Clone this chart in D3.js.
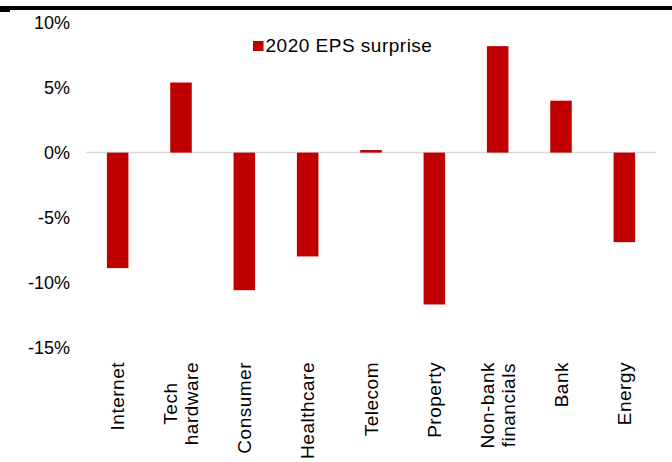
<!DOCTYPE html>
<html>
<head>
<meta charset="utf-8">
<script src="https://cdn.jsdelivr.net/npm/d3@7/dist/d3.min.js"></script>
<style>
  html, body { margin: 0; padding: 0; background: #fff; }
  svg { display: block; font-family: "Liberation Sans", Arial, sans-serif; }
</style>
</head>
<body>
<svg id="chart" width="672" height="462"></svg>
<script>
// Sector EPS surprise, 2020 (%)
const sectors = [
  ["Internet"],
  ["Tech", "hardware"],
  ["Consumer"],
  ["Healthcare"],
  ["Telecom"],
  ["Property"],
  ["Non-bank", "financials"],
  ["Bank"],
  ["Energy"]
];
const epsSurprise = [-8.9, 5.4, -10.6, -8.0, 0.2, -11.7, 8.2, 4.0, -6.9];
const yTicks = [-15, -10, -5, 0, 5, 10];
const seriesName = "2020 EPS surprise";

const svg = d3.select("#chart");
const barColor = "#C00000";

const keys = sectors.map(s => s.join(" "));
const x = d3.scaleBand()
  .domain(keys)
  .range([86, 656])
  .paddingInner(0.66)
  .paddingOuter(0.33);

const y = d3.scaleLinear()
  .domain([-15, 10])
  .range([347.3, 22.8]);

// top rule
svg.append("rect").attr("x", 0).attr("y", 6).attr("width", 672).attr("height", 4).attr("fill", "#000");
svg.append("rect").attr("x", 0).attr("y", 10).attr("width", 10).attr("height", 2).attr("fill", "#000");

// y axis labels (no axis line)
const yAxis = d3.axisLeft(y)
  .tickValues(yTicks)
  .tickSize(0)
  .tickPadding(0)
  .tickFormat(d => d + "%");
const yg = svg.append("g").attr("transform", "translate(70,0)").call(yAxis);
yg.select(".domain").remove();
yg.selectAll("text")
  .attr("font-size", 18)
  .attr("font-family", "Liberation Sans, Arial, sans-serif")
  .attr("fill", "#000");

// zero line
svg.append("line")
  .attr("x1", 86).attr("x2", 656)
  .attr("y1", y(0)).attr("y2", y(0))
  .attr("stroke", "#d9d9d9")
  .attr("stroke-width", 1.5);

// bars
svg.append("g")
  .selectAll("rect")
  .data(epsSurprise)
  .join("rect")
  .attr("x", (d, i) => x(keys[i]))
  .attr("width", x.bandwidth())
  .attr("y", d => y(Math.max(0, d)))
  .attr("height", d => Math.abs(y(d) - y(0)))
  .attr("fill", barColor);

// rotated category labels, lines centred on the longest line, block top-aligned
const labelTop = 362;
const lineGap = 21;
sectors.forEach((lines, i) => {
  const cx = x(keys[i]) + x.bandwidth() / 2;
  const g = svg.append("g");
  const texts = lines.map(t => g.append("text")
    .attr("font-size", 19)
    .attr("letter-spacing", 0.5)
    .attr("fill", "#000")
    .attr("text-anchor", "middle")
    .text(t));
  const maxLen = d3.max(texts, t => t.node().getComputedTextLength());
  const cy = labelTop + maxLen / 2;
  const n = lines.length;
  texts.forEach((t, j) => {
    const lx = cx + (j - (n - 1) / 2) * lineGap + 6.5;
    t.attr("transform", `translate(${lx},${cy}) rotate(-90)`);
  });
});

// legend
const lg = svg.append("g").attr("transform", "translate(253,41)");
lg.append("rect").attr("width", 10.5).attr("height", 10).attr("fill", barColor);
lg.append("text")
  .attr("x", 12.5).attr("y", 10.5)
  .attr("font-size", 19)
  .attr("letter-spacing", 0.5)
  .attr("fill", "#000")
  .text(seriesName);
</script>
</body>
</html>
